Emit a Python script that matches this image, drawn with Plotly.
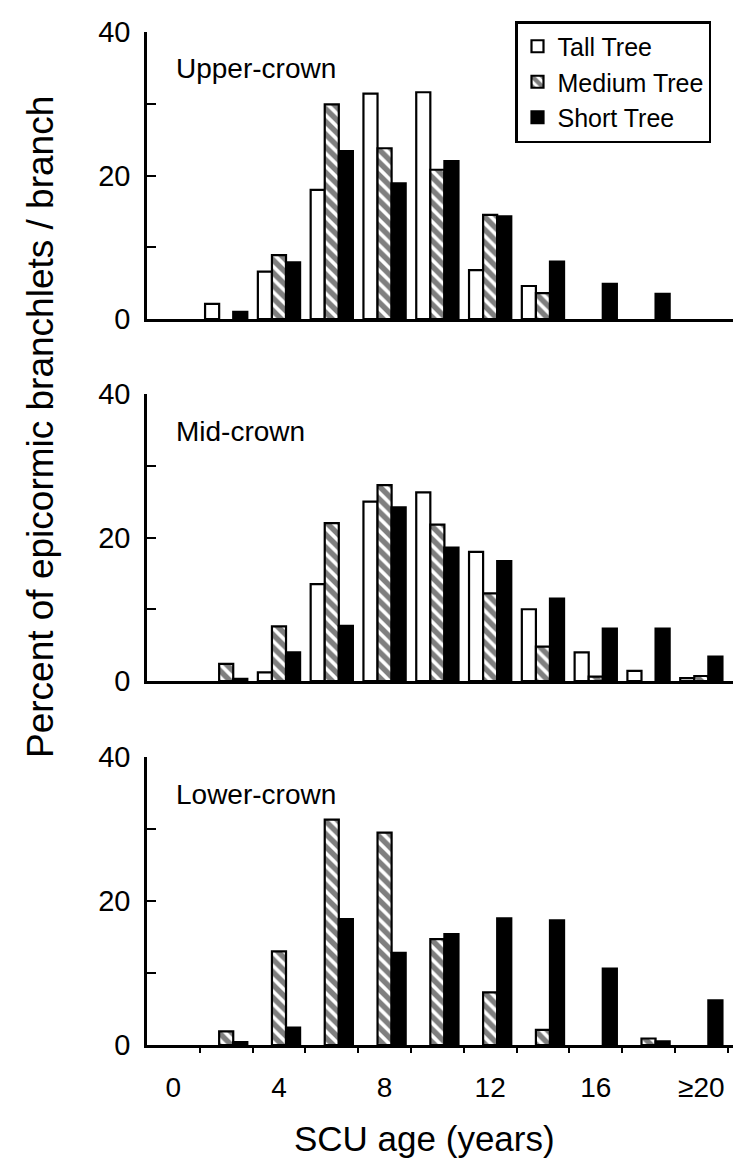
import plotly.graph_objects as go

years = [2, 4, 6, 8, 10, 12, 14, 16, 18, 20]
x_tick_vals = [0, 4, 8, 12, 16, 20]
x_tick_text = ["0", "4", "8", "12", "16", "≥20"]
y_tick_vals = [0, 10, 20, 30, 40]
y_tick_text = ["0", "", "20", "", "40"]

upper_tall = [2.1, 6.6, 18.0, 31.4, 31.6, 6.8, 4.6, 0, 0, 0]
upper_medium = [0, 8.9, 29.9, 23.8, 20.8, 14.5, 3.6, 0, 0, 0]
upper_short = [1.0, 7.9, 23.4, 18.9, 22.0, 14.3, 8.0, 4.9, 3.5, 0]

mid_tall = [0, 1.2, 13.5, 25.0, 26.3, 18.0, 10.0, 4.0, 1.4, 0.4]
mid_medium = [2.4, 7.6, 22.0, 27.3, 21.8, 12.2, 4.8, 0.6, 0, 0.7]
mid_short = [0.3, 4.0, 7.7, 24.2, 18.6, 16.7, 11.5, 7.3, 7.3, 3.4]

lower_tall = [0, 0, 0, 0, 0, 0, 0, 0, 0, 0]
lower_medium = [1.9, 13.0, 31.3, 29.5, 14.7, 7.3, 2.1, 0, 0.9, 0]
lower_short = [0.4, 2.4, 17.5, 12.8, 15.4, 17.6, 17.3, 10.6, 0.5, 6.2]

panels = [
    ("Upper-crown", upper_tall, upper_medium, upper_short),
    ("Mid-crown", mid_tall, mid_medium, mid_short),
    ("Lower-crown", lower_tall, lower_medium, lower_short),
]
series_names = ["Tall Tree", "Medium Tree", "Short Tree"]

FONT = "Liberation Sans, Arial, Helvetica, sans-serif"
W, H = 753, 1176
ML, MR, MT, MB = 147, 20, 32, 131
plot_h = H - MT - MB
panel_px = [(32, 319), (394, 681), (757, 1045)]


def nz(vals):
    # zero-height bars are not drawn in the original
    return [v if v > 0 else None for v in vals]


fig = go.Figure()

for i, (label, tall, med, short) in enumerate(panels):
    xa = "x" if i == 0 else f"x{i+1}"
    ya = "y" if i == 0 else f"y{i+1}"
    show = i == 0
    fig.add_trace(go.Bar(
        x=years, y=nz(tall), name=series_names[0], xaxis=xa, yaxis=ya,
        marker=dict(color="white", line=dict(color="black", width=2.2)),
        showlegend=show, legendgroup="t", offsetgroup="t"))
    fig.add_trace(go.Bar(
        x=years, y=nz(med), name=series_names[1], xaxis=xa, yaxis=ya,
        marker=dict(color="white", line=dict(color="black", width=2.2),
                    pattern=dict(shape="\\", fgcolor="black", bgcolor="white",
                                 size=9, solidity=0.6)),
        showlegend=show, legendgroup="m", offsetgroup="m"))
    fig.add_trace(go.Bar(
        x=years, y=nz(short), name=series_names[2], xaxis=xa, yaxis=ya,
        marker=dict(color="black", line=dict(color="black", width=2.2)),
        showlegend=show, legendgroup="s", offsetgroup="s"))

    top, bot = panel_px[i]
    d0 = (H - MB - bot) / plot_h
    d1 = (H - MB - top) / plot_h
    is_bottom = i == 2
    xkw = dict(
        domain=[0, 1], range=[-1, 21.2], showline=True, linecolor="black",
        linewidth=2.5, showgrid=False, zeroline=False, anchor=ya,
        tickvals=x_tick_vals, ticktext=x_tick_text,
        showticklabels=is_bottom,
        tickfont=dict(family=FONT, size=28, color="black"),
    )
    if is_bottom:
        xkw.update(ticks="outside", ticklen=16, tickcolor="rgba(0,0,0,0)",
                   minor=dict(tickvals=[1, 3, 5, 7, 9, 11, 13, 15, 17, 19, 21],
                              ticks="outside", ticklen=5, tickwidth=2,
                              tickcolor="black"))
    else:
        xkw.update(ticks="")
    ykw = dict(
        domain=[d0, d1], range=[0, 40], showline=True, linecolor="black",
        linewidth=2.5, showgrid=False, zeroline=False, anchor=xa,
        tickvals=y_tick_vals, ticktext=y_tick_text, ticks="inside",
        ticklen=9, tickwidth=2, tickcolor="black", ticklabelstandoff=8,
        tickfont=dict(family=FONT, size=29, color="black"),
    )
    fig.layout[("xaxis" if i == 0 else f"xaxis{i+1}")] = xkw
    fig.layout[("yaxis" if i == 0 else f"yaxis{i+1}")] = ykw

    fig.add_annotation(
        text=label, xref="paper", yref="paper",
        x=(174 - ML) / (W - ML - MR), y=(H - MB - (top + 37)) / plot_h,
        xanchor="left", yanchor="middle", showarrow=False,
        font=dict(family=FONT, size=28, color="black"))

fig.add_annotation(
    text="Percent of epicormic branchlets / branch", xref="paper", yref="paper",
    x=(40 - ML) / (W - ML - MR), y=(H - MB - 427) / plot_h, textangle=-90,
    xanchor="center", yanchor="middle", showarrow=False,
    font=dict(family=FONT, size=37, color="black"))
fig.add_annotation(
    text="SCU age (years)", xref="paper", yref="paper",
    x=(424 - ML) / (W - ML - MR), y=(H - MB - 1138) / plot_h,
    xanchor="center", yanchor="middle", showarrow=False,
    font=dict(family=FONT, size=35, color="black"))

fig.update_layout(
    width=W, height=H, margin=dict(l=ML, r=MR, t=MT, b=MB, autoexpand=False),
    paper_bgcolor="white", plot_bgcolor="white",
    barmode="group", bargap=0.2, bargroupgap=0,
    legend=dict(x=(515 - ML) / (W - ML - MR), y=(H - MB - 21) / plot_h,
                xanchor="left", yanchor="top", bgcolor="white",
                bordercolor="black", borderwidth=2.5,
                font=dict(family=FONT, size=25, color="black"),
                tracegroupgap=0, itemwidth=30),
    font=dict(family=FONT, color="black"),
)

fig.write_html("out.html")
